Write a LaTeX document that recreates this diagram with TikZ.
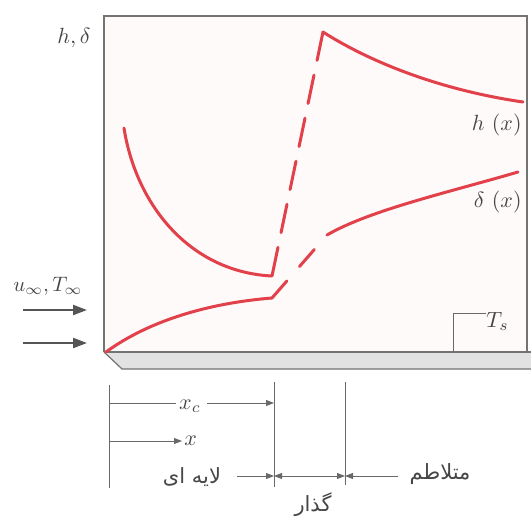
\documentclass[tikz,border=0pt]{standalone}
\usepackage{fontspec}
\newfontfamily\arabicfont[Script=Arabic]{DejaVu Sans}
\TeXXeTstate=1
\usetikzlibrary{arrows.meta,calc}
\definecolor{curvered}{RGB}{226,64,74}
\definecolor{linegray}{RGB}{105,105,105}
\definecolor{flowgray}{RGB}{85,85,85}
\definecolor{boxgray}{RGB}{115,115,115}
\definecolor{platefill}{RGB}{226,226,226}
\definecolor{bgpink}{RGB}{254,250,249}
\definecolor{textgray}{RGB}{70,70,70}
\begin{document}
\begin{tikzpicture}[x=1pt,y=-1pt,
  curve/.style={curvered,line width=3pt,line cap=round,line join=round},
  dimline/.style={linegray,line width=0.9pt},
  dimarrow/.style={dimline,-{Triangle[length=8pt,width=6pt]}},
  dimboth/.style={dimline,{Triangle[length=8pt,width=6pt]}-{Triangle[length=8pt,width=6pt]}},
  flowarrow/.style={flowgray,line width=2.2pt,-{Triangle[length=14pt,width=10pt]}},
  lbl/.style={text=textgray,inner sep=0pt,scale=2.2},
  fa/.style={text=textgray,inner sep=0pt,font=\fontsize{21}{26}\selectfont\arabicfont}]
\useasboundingbox (0,0) rectangle (531,525);
% box
\fill[bgpink] (104,16) rectangle (527,352);
\draw[boxgray,line width=2.5pt] (104,352) -- (104,16) -- (527,16) -- (527,352);
% plate
\fill[platefill] (104,352) -- (531,352) -- (531,369) -- (122,369) -- cycle;
\draw[boxgray,line width=2pt] (104,352) -- (531,352);
\draw[boxgray,line width=1.2pt] (104,352) -- (122,369) -- (531,369);
% coordinates
\coordinate (hL0) at (124,128);
\coordinate (hLc) at (272,276);
\coordinate (hT0) at (323,32);
\coordinate (hT1) at (523,102);
\coordinate (dL0) at (106,352);
\coordinate (dLc) at (272,298);
\coordinate (dT0) at (327,235);
\coordinate (dT1) at (518,172);
% curves
\draw[curve] (hL0) .. controls (136,205) and (190,272) .. (hLc);
\draw[curve,dash pattern=on 29pt off 15pt] (hT0) -- (hLc);
\draw[curve] (hT0) .. controls (370,62) and (440,90) .. (hT1);
\draw[curve] (dL0) .. controls (150,320) and (210,303) .. (dLc);
\draw[curve] (dLc) -- ($(dLc)!0.27!(dT0)$);
\draw[curve] ($(dLc)!0.5!(dT0)$) -- ($(dLc)!0.77!(dT0)$);
\draw[curve] (dT0) .. controls (370,210) and (450,192) .. (dT1);
% labels in box
\node[lbl,anchor=base east] (hdlab) at (91,43) {$h,\delta$};
\node[lbl,anchor=base east] (hxlab) at (522,130) {$h\ (x)$};
\node[lbl,anchor=base east] (dxlab) at (522,207) {$\delta\ (x)$};
% T_s
\node[lbl,anchor=base west] (tslab) at (486,327) {$T_s$};
\coordinate (tsfoot) at (453,351);
\coordinate (tscorner) at (453,313);
\draw[dimline] (tsfoot) -- (tscorner) -- (tslab.west |- tscorner) ;
% inflow
\node[lbl,anchor=base west,scale=0.95] (uinf) at (13,291) {$u_\infty, T_\infty$};
\coordinate (fa1) at (23,310); \coordinate (fb1) at (87,310);
\coordinate (fa2) at (23,343); \coordinate (fb2) at (87,343);
\draw[flowarrow] (fa1) -- (fb1);
\draw[flowarrow] (fa2) -- (fb2);
% dimension lines
\coordinate (v0t) at (109,385); \coordinate (v0b) at (109,488);
\coordinate (v1t) at (274,382); \coordinate (v1b) at (274,487);
\coordinate (v2t) at (345,382); \coordinate (v2b) at (345,485);
\draw[dimline] (v0t) -- (v0b);
\draw[dimline] (v1t) -- (v1b);
\draw[dimline] (v2t) -- (v2b);
\node[lbl] (xclab) at (190,406) {$x_c$};
\draw[dimline] (109,403) -- (176,403);
\draw[dimarrow] (207,403) -- (274,403);
\coordinate (xs) at (109,441); \coordinate (xe) at (182,441);
\draw[dimarrow] (xs) -- (xe);
\node[lbl,anchor=west] (xlab) at (184,441) {$x$};
\node[fa] (lam) at (192,477) {\beginR لایه ای\endR};
\draw[dimarrow] (237,476) -- (274,476);
\draw[dimboth] (274,476) -- (345,476);
\draw[dimarrow] (398,476) -- (345,476);
\node[fa] (turb) at (440,474) {\beginR متلاطم\endR};
\node[fa] (trans) at (313,505) {\beginR گذار\endR};
\end{tikzpicture}
\end{document}
